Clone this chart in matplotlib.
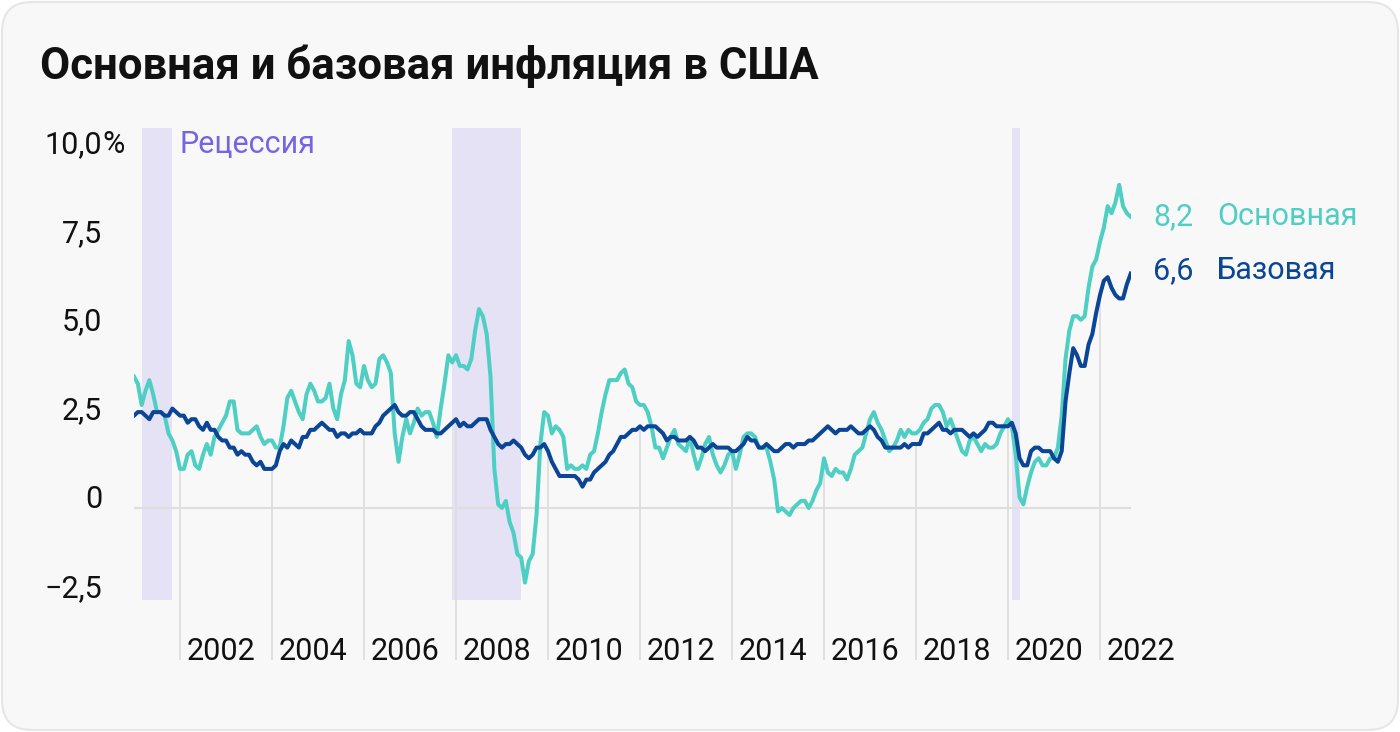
import matplotlib.pyplot as plt
from matplotlib.patches import FancyBboxPatch
from matplotlib.transforms import IdentityTransform

plt.rcParams['font.family'] = ['Roboto', 'DejaVu Sans']

# Инфляция в США, г/г, %, январь 2001 - сентябрь 2022
headline = [
    3.7, 3.5, 2.9, 3.3, 3.6, 3.2, 2.7, 2.7, 2.6, 2.1, 1.9, 1.6,   # 2001
    1.1, 1.1, 1.5, 1.6, 1.2, 1.1, 1.5, 1.8, 1.5, 2.0, 2.2, 2.4,   # 2002
    2.6, 3.0, 3.0, 2.2, 2.1, 2.1, 2.1, 2.2, 2.3, 2.0, 1.8, 1.9,   # 2003
    1.9, 1.7, 1.7, 2.3, 3.1, 3.3, 3.0, 2.7, 2.5, 3.2, 3.5, 3.3,   # 2004
    3.0, 3.0, 3.1, 3.5, 2.8, 2.5, 3.2, 3.6, 4.7, 4.3, 3.5, 3.4,   # 2005
    4.0, 3.6, 3.4, 3.5, 4.2, 4.3, 4.1, 3.8, 2.1, 1.3, 2.0, 2.5,   # 2006
    2.1, 2.4, 2.8, 2.6, 2.7, 2.7, 2.4, 2.0, 2.8, 3.5, 4.3, 4.1,   # 2007
    4.3, 4.0, 4.0, 3.9, 4.2, 5.0, 5.6, 5.4, 4.9, 3.7, 1.1, 0.1,   # 2008
    0.0, 0.2, -0.4, -0.7, -1.3, -1.4, -2.1, -1.5, -1.3, -0.2, 1.8, 2.7,   # 2009
    2.6, 2.1, 2.3, 2.2, 2.0, 1.1, 1.2, 1.1, 1.1, 1.2, 1.1, 1.5,   # 2010
    1.6, 2.1, 2.7, 3.2, 3.6, 3.6, 3.6, 3.8, 3.9, 3.5, 3.4, 3.0,   # 2011
    2.9, 2.9, 2.7, 2.3, 1.7, 1.7, 1.4, 1.7, 2.0, 2.2, 1.8, 1.7,   # 2012
    1.6, 2.0, 1.5, 1.1, 1.4, 1.8, 2.0, 1.5, 1.2, 1.0, 1.2, 1.5,   # 2013
    1.6, 1.1, 1.5, 2.0, 2.1, 2.1, 2.0, 1.7, 1.7, 1.7, 1.3, 0.8,   # 2014
    -0.1, 0.0, -0.1, -0.2, 0.0, 0.1, 0.2, 0.2, 0.0, 0.2, 0.5, 0.7,   # 2015
    1.4, 1.0, 0.9, 1.1, 1.0, 1.0, 0.8, 1.1, 1.5, 1.6, 1.7, 2.1,   # 2016
    2.5, 2.7, 2.4, 2.2, 1.9, 1.6, 1.7, 1.9, 2.2, 2.0, 2.2, 2.1,   # 2017
    2.1, 2.2, 2.4, 2.5, 2.8, 2.9, 2.9, 2.7, 2.3, 2.5, 2.2, 1.9,   # 2018
    1.6, 1.5, 1.9, 2.0, 1.8, 1.6, 1.8, 1.7, 1.7, 1.8, 2.1, 2.3,   # 2019
    2.5, 2.3, 1.5, 0.3, 0.1, 0.6, 1.0, 1.3, 1.4, 1.2, 1.2, 1.4,   # 2020
    1.4, 1.7, 2.6, 4.2, 5.0, 5.4, 5.4, 5.3, 5.4, 6.2, 6.8, 7.0,   # 2021
    7.5, 7.9, 8.5, 8.3, 8.6, 9.1, 8.5, 8.3, 8.2,                  # 2022
]
core = [
    2.6, 2.7, 2.7, 2.6, 2.5, 2.7, 2.7, 2.7, 2.6, 2.6, 2.8, 2.7,
    2.6, 2.6, 2.4, 2.5, 2.5, 2.3, 2.2, 2.4, 2.2, 2.2, 2.0, 1.9,
    1.9, 1.7, 1.7, 1.5, 1.6, 1.5, 1.5, 1.3, 1.2, 1.3, 1.1, 1.1,
    1.1, 1.2, 1.6, 1.8, 1.7, 1.9, 1.8, 1.7, 2.0, 2.0, 2.2, 2.2,
    2.3, 2.4, 2.3, 2.2, 2.2, 2.0, 2.1, 2.1, 2.0, 2.1, 2.1, 2.2,
    2.1, 2.1, 2.1, 2.3, 2.4, 2.6, 2.7, 2.8, 2.9, 2.7, 2.6, 2.6,
    2.7, 2.7, 2.5, 2.3, 2.2, 2.2, 2.2, 2.1, 2.1, 2.2, 2.3, 2.4,
    2.5, 2.3, 2.4, 2.3, 2.3, 2.4, 2.5, 2.5, 2.5, 2.2, 2.0, 1.8,
    1.7, 1.8, 1.8, 1.9, 1.8, 1.7, 1.5, 1.4, 1.5, 1.7, 1.7, 1.8,
    1.6, 1.3, 1.1, 0.9, 0.9, 0.9, 0.9, 0.9, 0.8, 0.6, 0.8, 0.8,
    1.0, 1.1, 1.2, 1.3, 1.5, 1.6, 1.8, 2.0, 2.0, 2.1, 2.2, 2.2,
    2.3, 2.2, 2.3, 2.3, 2.3, 2.2, 2.1, 1.9, 2.0, 2.0, 1.9, 1.9,
    1.9, 2.0, 1.9, 1.7, 1.7, 1.6, 1.7, 1.8, 1.7, 1.7, 1.7, 1.7,
    1.6, 1.6, 1.7, 1.8, 2.0, 1.9, 1.9, 1.7, 1.7, 1.8, 1.7, 1.6,
    1.6, 1.7, 1.8, 1.8, 1.7, 1.8, 1.8, 1.8, 1.9, 1.9, 2.0, 2.1,
    2.2, 2.3, 2.2, 2.1, 2.2, 2.2, 2.2, 2.3, 2.2, 2.1, 2.1, 2.2,
    2.3, 2.2, 2.0, 1.9, 1.7, 1.7, 1.7, 1.7, 1.7, 1.8, 1.7, 1.8,
    1.8, 1.8, 2.1, 2.1, 2.2, 2.3, 2.4, 2.2, 2.2, 2.1, 2.2, 2.2,
    2.2, 2.1, 2.0, 2.1, 2.0, 2.1, 2.2, 2.4, 2.4, 2.3, 2.3, 2.3,
    2.3, 2.4, 2.1, 1.4, 1.2, 1.2, 1.6, 1.7, 1.7, 1.6, 1.6, 1.6,
    1.4, 1.3, 1.6, 3.0, 3.8, 4.5, 4.3, 4.0, 4.0, 4.6, 4.9, 5.5,
    6.0, 6.4, 6.5, 6.2, 6.0, 5.9, 5.9, 6.3, 6.6,
]
start_year = 2001
# рецессии: (год, месяц начала), (год, месяц конца)
recessions = [((2001, 3), (2001, 11)), ((2007, 12), (2009, 6)), ((2020, 2), (2020, 4))]
year_ticks = list(range(2002, 2023, 2))
y_ticks = [10, 7.5, 5, 2.5, 0, -2.5]
y_labels = ['10,0', '7,5', '5,0', '2,5', '0', '−2,5']

teal = '#4fcfc4'
navy = '#0a4596'
grid = '#dedede'

t = [start_year + i / 12 for i in range(len(headline))]

fig = plt.figure(figsize=(14, 7.32), dpi=100, facecolor='white')
card = FancyBboxPatch((2, 2), 1396, 728, boxstyle='round,pad=0,rounding_size=30',
                      transform=IdentityTransform(), facecolor='#f8f8f8',
                      edgecolor='#e6e6e6', linewidth=1.5, zorder=-10)
fig.patches.append(card)

ax = fig.add_axes([134 / 1400, 1 - 600.3 / 732, 996.7 / 1400, 472.3 / 732])
ax.set_xlim(t[0], t[-1])
ax.set_ylim(-2.6, 10.7)
ax.set_axis_off()

for (y0, m0), (y1, m1) in recessions:
    ax.axvspan(y0 + (m0 - 1) / 12, y1 + (m1 - 1) / 12, color='#e5e2f6', lw=0, zorder=1)

ax.hlines(0, t[0], t[-1], color=grid, lw=1.5, zorder=2)

# вертикальные линии от подписей вверх до графика
tops = []
for yr in year_ticks:
    i = (yr - start_year) * 12
    tops.append(min(headline[i], core[i]))
ax.vlines(year_ticks, -4.28, tops, color=grid, lw=1.3, zorder=2, clip_on=False)

ax.plot(t, headline, color=teal, lw=2.9, zorder=3)
ax.plot(t, core, color=navy, lw=2.9, zorder=4)

for yr in year_ticks:
    ax.text(yr + 7 / 46, -4.28, str(yr), fontsize=22, color='#111111',
            ha='left', va='baseline', clip_on=False)

for v, lab in zip(y_ticks, y_labels):
    ax.annotate(lab, xy=(0, v), xycoords=('axes fraction', 'data'), xytext=(-23, 0),
                textcoords='offset points', fontsize=22, color='#111111',
                ha='right', va='baseline')
ax.annotate('%', xy=(0, 10), xycoords=('axes fraction', 'data'), xytext=(-23, 0),
            textcoords='offset points', fontsize=22, color='#111111',
            ha='left', va='baseline')

ax.text(2001 + 45 / 46, 10, 'Рецессия', fontsize=22, color='#7466e0',
        ha='left', va='baseline')

ax.annotate('8,2', xy=(t[-1], headline[-1]), xytext=(16, -6), textcoords='offset points',
            fontsize=22, color=teal, ha='left', va='baseline', annotation_clip=False)
ax.annotate('Основная', xy=(t[-1], headline[-1]), xytext=(62, -6), textcoords='offset points',
            fontsize=22, color=teal, ha='left', va='baseline', annotation_clip=False)
ax.annotate('6,6', xy=(t[-1], core[-1]), xytext=(16, -4), textcoords='offset points',
            fontsize=22, color=navy, ha='left', va='baseline', annotation_clip=False)
ax.annotate('Базовая', xy=(t[-1], core[-1]), xytext=(62, -4), textcoords='offset points',
            fontsize=22, color=navy, ha='left', va='baseline', annotation_clip=False)

fig.text(40 / 1400, 1 - 79 / 732, 'Основная и базовая инфляция в США', fontsize=31.5,
         fontweight='bold', color='#111111', ha='left', va='baseline')

fig.savefig('out.png', dpi=100, facecolor='white')
